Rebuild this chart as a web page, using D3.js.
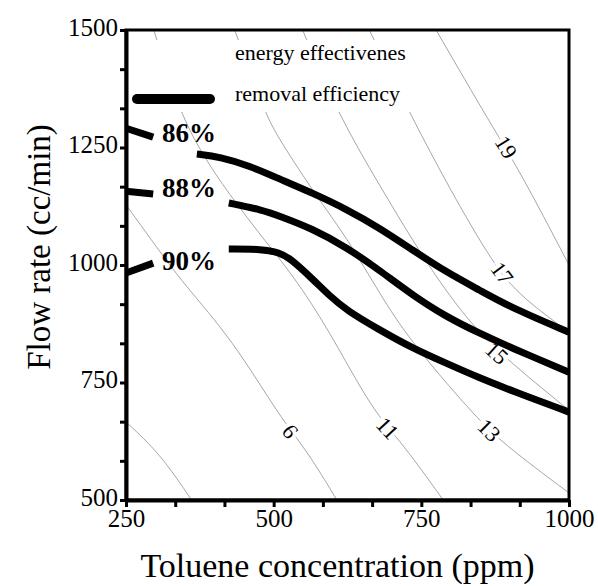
<!DOCTYPE html>
<html>
<head>
<meta charset="utf-8">
<script src="https://cdn.jsdelivr.net/npm/d3@7/dist/d3.min.js"></script>
<style>
body { margin: 0; background: #fff; }
text { font-family: "Liberation Serif", "Times New Roman", serif; }
</style>
</head>
<body>
<script>
// axis ticks
var xMajor = [250, 500, 750, 1000];
var yMajor = [500, 750, 1000, 1250, 1500];

// removal efficiency curves (null = gap left for the label)
var effNames = ["86%", "88%", "90%"];
var eff86 = [[250,1291],[296,1272],null,[370,1236],[409,1230],[459,1211],[510,1183],[566,1153],[623,1119],[679,1079],[735,1032],[792,985],[848,947],[904,908],[1000,857]];
var eff88 = [[250,1157],[296,1151],null,[424,1132],[481,1117],[510,1104],[566,1077],[623,1038],[679,989],[735,936],[792,890],[848,855],[904,823],[1000,772]];
var eff90 = [[250,983],[296,1004],null,[424,1034],[481,1034],[510,1026],[527,1015],[566,970],[595,934],[623,904],[679,862],[735,823],[792,791],[848,760],[904,732],[1000,687]];
var effLabelAt = [[311,1262],[311,1145],[311,989]];

// energy effectiveness contours
var energyValues = [7, 9, 11, 13, 15, 17, 19];
var en7  = [[250,666],[307,600],[361,500]];
var en9  = [[250,1128],[299,1043],[346,962],[431,840],[510,677],[556,606],[607,500]];
var en11 = [[297,1500],[341,1323],[383,1228],[422,1155],[488,1047],[539,968],[600,847],[667,691],[718,621],[787,500]];
var en13 = [[434,1500],[485,1323],[510,1266],[573,1145],[623,1060],[679,940],[730,840],[836,685],[887,621],[1000,515]];
var en15 = [[549,1500],[608,1323],[679,1170],[758,1004],[836,868],[910,783],[1000,691]];
var en17 = [[662,1500],[730,1323],[802,1153],[865,1017],[910,940],[1000,857]];
var en19 = [[775,1500],[870,1294],[916,1202],[1000,1000]];
// where the value is written on each contour (7 has none)
var energyLabelAt = [null,[527,645],[693,653],[865,649],[878,813],[887,983],[894,1251]];

var width = 598, height = 586;
var plotL = 126, plotR = 569, plotT = 30, plotB = 500;

var x = d3.scaleLinear().domain([250, 1000]).range([plotL, plotR]);
var y = d3.scaleLinear().domain([500, 1500]).range([plotB, plotT]);

var svg = d3.select("body").append("svg")
    .attr("width", width)
    .attr("height", height);

svg.append("defs").append("clipPath").attr("id", "plot")
    .append("rect")
    .attr("x", plotL).attr("y", plotT)
    .attr("width", plotR - plotL).attr("height", plotB - plotT);

var line = d3.line()
    .defined(function(d) { return d != null; })
    .x(function(d) { return x(d[0]); })
    .y(function(d) { return y(d[1]); })
    .curve(d3.curveBasis);

// thin contours
var energy = [en7, en9, en11, en13, en15, en17, en19];
var g = svg.append("g").attr("clip-path", "url(#plot)");
energy.forEach(function(pts){
    g.append("path")
        .attr("d", line(pts))
        .attr("fill", "none")
        .attr("stroke", "#6a6a6a")
        .attr("stroke-width", 0.6);
});

// legend box hides the contours behind it
svg.append("rect")
    .attr("x", 128).attr("y", 40)
    .attr("width", 292).attr("height", 72)
    .attr("fill", "#fff");

svg.append("text")
    .attr("x", 235).attr("y", 60)
    .attr("font-size", 22)
    .text("energy effectivenes");

svg.append("line")
    .attr("x1", 137).attr("x2", 210)
    .attr("y1", 99).attr("y2", 99)
    .attr("stroke", "#000")
    .attr("stroke-width", 10)
    .attr("stroke-linecap", "round");

svg.append("text")
    .attr("x", 235).attr("y", 101)
    .attr("font-size", 22)
    .text("removal efficiency");

// contour labels, turned along the line
energy.forEach(function(pts, i){
    var at = energyLabelAt[i];
    if(!at) return;
    var px = x(at[0]), py = y(at[1]);
    var best = 0, bestD = Infinity;
    for(var k = 0; k < pts.length - 1; k++){
        var mx = (x(pts[k][0]) + x(pts[k+1][0])) / 2;
        var my = (y(pts[k][1]) + y(pts[k+1][1])) / 2;
        var dd = (mx-px)*(mx-px) + (my-py)*(my-py);
        if(dd < bestD){ bestD = dd; best = k; }
    }
    var ang = Math.atan2(y(pts[best+1][1]) - y(pts[best][1]), x(pts[best+1][0]) - x(pts[best][0])) * 180 / Math.PI;
    if(energyValues[i] == 9) ang += 180;
    svg.append("text")
        .attr("transform", "translate(" + px + "," + py + ") rotate(" + ang + ")")
        .attr("text-anchor", "middle")
        .attr("dy", "0.35em")
        .attr("font-size", 22)
        .attr("stroke", "#fff")
        .attr("stroke-width", 7)
        .attr("paint-order", "stroke")
        .text(energyValues[i]);
});

// removal efficiency curves
[eff86, eff88, eff90].forEach(function(pts){
    svg.append("path")
        .attr("d", line(pts))
        .attr("fill", "none")
        .attr("stroke", "#000")
        .attr("stroke-width", 7);
});

effNames.forEach(function(name, i){
    svg.append("text")
        .attr("x", x(effLabelAt[i][0]))
        .attr("y", y(effLabelAt[i][1]))
        .attr("font-size", 27)
        .attr("font-weight", "bold")
        .text(name);
});

// frame
svg.append("rect")
    .attr("x", plotL).attr("y", plotT)
    .attr("width", plotR - plotL).attr("height", plotB - plotT)
    .attr("fill", "none")
    .attr("stroke", "#000")
    .attr("stroke-width", 3);

function isMajor(v, list){
    return list.some(function(m){ return Math.abs(m - v) < 1e-6; });
}

var xTicks = d3.range(10).map(function(i){ return 250 + i * 250 / 3; });
var yTicks = d3.range(13).map(function(i){ return 500 + i * 250 / 3; });

var xAxis = svg.append("g")
    .attr("transform", "translate(0," + plotB + ")")
    .call(d3.axisBottom(x).tickValues(xTicks).tickSizeInner(7).tickSizeOuter(0).tickPadding(3)
        .tickFormat(function(v){ return isMajor(v, xMajor) ? v : ""; }));

var yAxis = svg.append("g")
    .attr("transform", "translate(" + plotL + ",0)")
    .call(d3.axisLeft(y).tickValues(yTicks).tickSizeInner(6).tickSizeOuter(0).tickPadding(2)
        .tickFormat(function(v){ return isMajor(v, yMajor) ? v : ""; }));

[xAxis, yAxis].forEach(function(a){
    a.select(".domain").attr("stroke-width", 4);
    a.selectAll(".tick line").attr("stroke-width", 3);
    a.selectAll(".tick text")
        .attr("font-family", "Liberation Serif")
        .attr("font-size", 25)
        .attr("fill", "#000");
});
yAxis.selectAll(".tick text").attr("dy", "0.2em");
xAxis.selectAll(".tick text").attr("dy", "0.68em");

// axis titles
svg.append("text")
    .attr("x", (plotL + plotR) / 2 - 10)
    .attr("y", 577)
    .attr("text-anchor", "middle")
    .attr("font-size", 34)
    .text("Toluene concentration (ppm)");

svg.append("text")
    .attr("transform", "translate(50,247) rotate(-90)")
    .attr("text-anchor", "middle")
    .attr("font-size", 33)
    .text("Flow rate (cc/min)");
</script>
</body>
</html>
